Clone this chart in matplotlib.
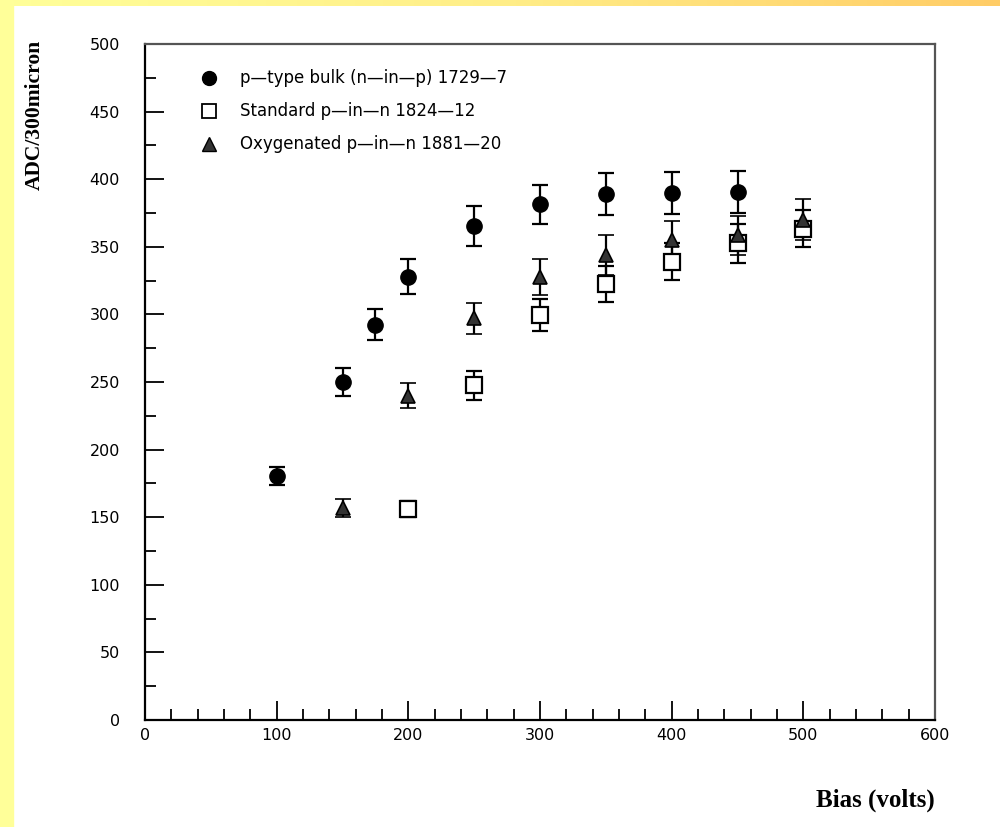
"""Charge collection vs bias voltage for three detector types."""

import numpy as np
import matplotlib
matplotlib.use("Agg")
import matplotlib.pyplot as plt
from matplotlib.colors import LinearSegmentedColormap

# p-type bulk (n-in-p) 1729-7
ptype_bias = [100, 150, 175, 200, 250, 300, 350, 400, 450]
ptype_adc = [180.5, 250, 292.5, 328, 365.5, 381.5, 389, 390, 390.5]
ptype_err = [7, 10, 11.5, 13, 15, 14.5, 15.5, 15.5, 15.5]

# Standard p-in-n 1824-12
std_bias = [200, 250, 300, 350, 400, 450, 500]
std_adc = [156, 247.5, 299.5, 322.5, 339, 352.5, 363.5]
std_err = [6, 10.5, 12, 13, 13.5, 14.5, 14]

# Oxygenated p-in-n 1881-20
oxy_bias = [150, 200, 250, 300, 350, 400, 450, 500]
oxy_adc = [157, 240, 297, 327.5, 344, 355, 358.5, 370]
oxy_err = [6.5, 9.5, 11.5, 13.5, 14.5, 14, 14.5, 15]

labels = ["p\u2014type bulk (n\u2014in\u2014p) 1729\u20147",
          "Standard p\u2014in\u2014n 1824\u201412",
          "Oxygenated p\u2014in\u2014n 1881\u201420"]

W, H = 1000, 827
fig = plt.figure(figsize=(W / 100, H / 100), dpi=100)
fig.patch.set_facecolor("white")

# yellow slide border: left strip and top gradient
fig.patches.append(plt.Rectangle((0, 0), 13 / W, 1, transform=fig.transFigure,
                                 color="#ffff99", zorder=0))
top = fig.add_axes([0, 1 - 6 / H, 1, 6 / H])
cmap = LinearSegmentedColormap.from_list("border", ["#ffff99", "#ffee88", "#ffcc66"])
top.imshow(np.linspace(0, 1, 256)[None, :], aspect="auto", cmap=cmap)
top.axis("off")

ax = fig.add_axes([145 / W, 107 / H, 790 / W, 676 / H])

err_style = dict(ecolor="black", elinewidth=1.6, capsize=6, capthick=1.6, linestyle="none")
ax.errorbar(ptype_bias, ptype_adc, yerr=ptype_err, marker="o", ms=11,
            mfc="black", mec="black", zorder=3, **err_style)
ax.errorbar(std_bias, std_adc, yerr=std_err, marker="s", ms=11,
            mfc="white", mec="black", mew=1.6, zorder=2, **err_style)
ax.errorbar(oxy_bias, oxy_adc, yerr=oxy_err, marker="^", ms=10,
            mfc="#333333", mec="black", mew=1.2, zorder=2, **err_style)

ax.set_xlim(0, 600)
ax.set_ylim(0, 500)
ax.set_xticks(range(0, 601, 100))
ax.set_xticks(range(0, 601, 20), minor=True)
ax.set_yticks(range(0, 501, 50))
ax.set_yticks(range(0, 501, 25), minor=True)
ax.tick_params(which="both", direction="in", top=False, right=False,
               width=1.3, labelsize=11.5, colors="black")
ax.tick_params(which="major", length=14, pad=6)
ax.tick_params(which="minor", length=8)
ax.tick_params(axis="y", pad=18)
for side in ["left", "bottom"]:
    ax.spines[side].set_linewidth(1.6)
for side in ["top", "right"]:
    ax.spines[side].set_linewidth(1.6)
    ax.spines[side].set_color("#555555")

# legend drawn by hand like the original
leg_y = [0.95, 0.901, 0.852]
leg_markers = [dict(marker="o", mfc="black", mec="black", ms=10),
               dict(marker="s", mfc="white", mec="black", ms=10, mew=1.3),
               dict(marker="^", mfc="#333333", mec="black", ms=10)]
for yy, lab, mk in zip(leg_y, labels, leg_markers):
    ax.plot([0.081], [yy], transform=ax.transAxes, linestyle="none", clip_on=False, **mk)
    ax.text(0.12, yy, lab, transform=ax.transAxes, fontsize=12, va="center", ha="left")

fig.text(35 / W, 1 - 115 / H, "ADC/300micron", rotation=90, ha="center", va="center",
         fontsize=15.5, fontweight="bold", family="Liberation Serif")
fig.text(935 / W, 1 - 800 / H, "Bias (volts)", ha="right", va="center",
         fontsize=18, fontweight="bold", family="Liberation Serif")

fig.savefig("out.png", dpi=100)
